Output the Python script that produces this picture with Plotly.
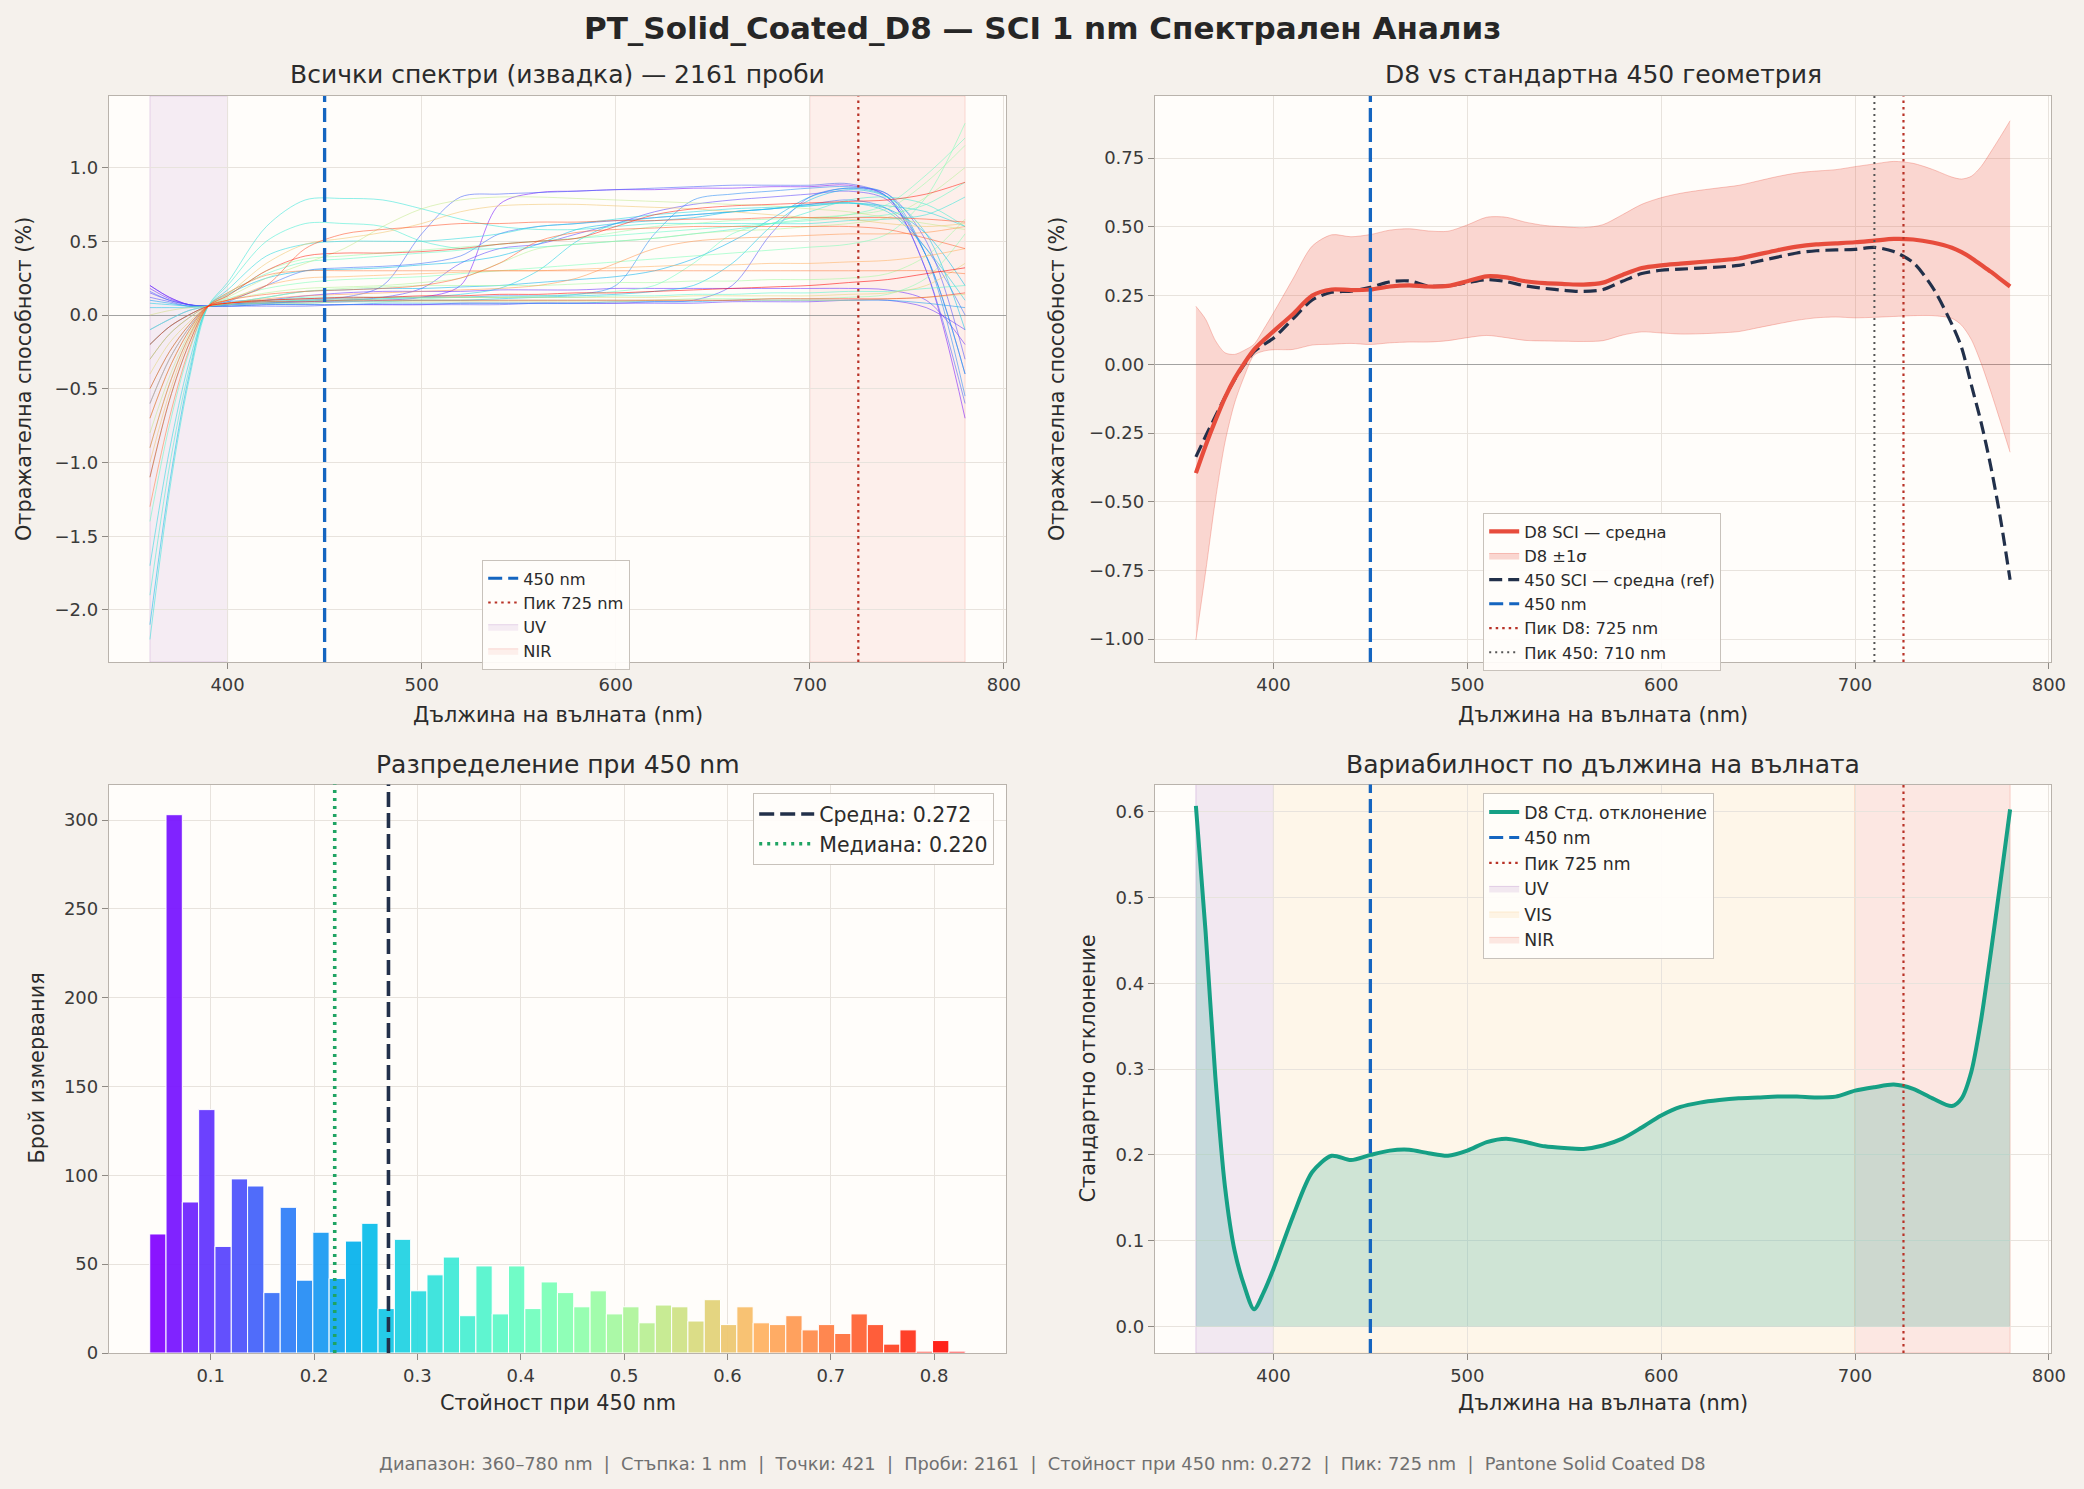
import math
import numpy as np
import plotly.graph_objects as go

# ---------------- data ----------------
WL = [360, 365, 370, 375, 380, 385, 390, 395, 400,
      410, 420, 430, 440, 450, 460, 470, 480, 490, 500,
      510, 520, 530, 540, 550, 560, 570, 580, 590, 600,
      610, 620, 630, 640, 650, 660, 670, 680, 690, 700,
      710, 720, 730, 740, 750,
      755, 760, 765, 770, 775, 780]

D8_MEAN = [-0.396, -0.296, -0.205, -0.121, -0.052, 0.004, 0.053, 0.088, 0.120,
           0.182, 0.250, 0.272, 0.270, 0.272, 0.283, 0.287, 0.283, 0.285, 0.302,
           0.320, 0.316, 0.302, 0.295, 0.292, 0.290, 0.297, 0.325, 0.350, 0.360,
           0.366, 0.372, 0.378, 0.385, 0.400, 0.415, 0.428, 0.436, 0.440, 0.444,
           0.450, 0.456, 0.454, 0.443, 0.424,
           0.408, 0.387, 0.362, 0.337, 0.310, 0.283]

REF450_MEAN = [-0.337, -0.262, -0.190, -0.120, -0.055, 0.000, 0.046, 0.072, 0.095,
               0.165, 0.234, 0.262, 0.266, 0.280, 0.300, 0.303, 0.285, 0.286, 0.297,
               0.308, 0.301, 0.285, 0.276, 0.269, 0.265, 0.272, 0.302, 0.330, 0.342,
               0.346, 0.350, 0.354, 0.360, 0.375, 0.390, 0.405, 0.413, 0.416, 0.418,
               0.425, 0.410, 0.370, 0.280, 0.145,
               0.060, -0.075, -0.210, -0.370, -0.560, -0.784]

D8_STD = [0.607, 0.460, 0.292, 0.163, 0.088, 0.047, 0.020, 0.040, 0.067,
          0.128, 0.180, 0.199, 0.194, 0.200, 0.205, 0.206, 0.202, 0.199, 0.205,
          0.215, 0.219, 0.215, 0.210, 0.208, 0.207, 0.211, 0.219, 0.232, 0.246,
          0.256, 0.261, 0.264, 0.266, 0.267, 0.268, 0.268, 0.267, 0.268, 0.275,
          0.279, 0.282, 0.277, 0.266, 0.257,
          0.266, 0.297, 0.357, 0.435, 0.518, 0.603]

SPEC_WL = [360, 370, 380, 390, 400, 420, 440, 460, 480, 500, 520, 540,
           560, 580, 600, 620, 640, 660, 680, 700, 720, 740, 760, 780]

# colour position in the rainbow map for each sampled spectrum
SPEC_CPOS = [0.02, 0.05, 0.06, 0.08, 0.10, 0.12, 0.14, 0.18, 0.21, 0.24, 0.26, 0.28,
             0.30, 0.32, 0.35, 0.38, 0.41, 0.44, 0.46, 0.49, 0.52, 0.55, 0.57, 0.60,
             0.63, 0.66, 0.69, 0.72, 0.76, 0.80, 0.84, 0.88, 0.90, 0.93, 0.96, 1.00]

SPECTRA = [
    [0.20, 0.12, 0.07, 0.06, 0.07, 0.08, 0.09, 0.09, 0.10, 0.12, 0.20, 0.75, 0.83, 0.84, 0.85, 0.85, 0.86, 0.86, 0.87, 0.87, 0.88, 0.80, 0.30, -0.70],
    [0.18, 0.11, 0.07, 0.06, 0.07, 0.10, 0.13, 0.15, 0.16, 0.16, 0.16, 0.17, 0.17, 0.17, 0.18, 0.18, 0.18, 0.18, 0.18, 0.18, 0.18, 0.17, 0.10, -0.20],
    [0.20, 0.12, 0.07, 0.06, 0.06, 0.07, 0.07, 0.07, 0.07, 0.07, 0.08, 0.08, 0.08, 0.08, 0.08, 0.08, 0.08, 0.09, 0.09, 0.09, 0.10, 0.10, 0.05, -0.10],
    [0.15, 0.10, 0.07, 0.06, 0.07, 0.09, 0.10, 0.10, 0.12, 0.18, 0.35, 0.45, 0.48, 0.55, 0.62, 0.70, 0.75, 0.78, 0.80, 0.82, 0.84, 0.78, 0.40, -0.40],
    [0.12, 0.09, 0.06, 0.06, 0.06, 0.06, 0.06, 0.07, 0.07, 0.07, 0.07, 0.07, 0.08, 0.08, 0.08, 0.09, 0.10, 0.20, 0.55, 0.80, 0.86, 0.82, 0.50, -0.30],
    [0.16, 0.10, 0.07, 0.06, 0.07, 0.08, 0.10, 0.12, 0.20, 0.55, 0.80, 0.82, 0.83, 0.84, 0.85, 0.86, 0.87, 0.88, 0.88, 0.88, 0.89, 0.80, 0.30, -0.60],
    [-0.10, -0.03, 0.03, 0.06, 0.09, 0.20, 0.30, 0.32, 0.33, 0.35, 0.40, 0.55, 0.60, 0.62, 0.64, 0.66, 0.68, 0.70, 0.72, 0.75, 0.78, 0.72, 0.45, 0.00],
    [-0.60, -0.30, -0.09, 0.06, 0.09, 0.10, 0.11, 0.11, 0.12, 0.12, 0.12, 0.13, 0.13, 0.14, 0.20, 0.55, 0.78, 0.82, 0.84, 0.86, 0.87, 0.82, 0.40, -0.55],
    [0.10, 0.08, 0.06, 0.06, 0.06, 0.07, 0.07, 0.07, 0.08, 0.08, 0.08, 0.08, 0.08, 0.08, 0.09, 0.09, 0.09, 0.10, 0.10, 0.10, 0.10, 0.10, 0.08, 0.05],
    [-0.20, -0.08, 0.00, 0.06, 0.08, 0.12, 0.16, 0.17, 0.18, 0.18, 0.19, 0.20, 0.22, 0.24, 0.26, 0.30, 0.38, 0.50, 0.65, 0.80, 0.86, 0.80, 0.40, -0.40],
    [-2.10, -1.15, -0.42, 0.06, 0.14, 0.25, 0.30, 0.31, 0.32, 0.34, 0.36, 0.40, 0.48, 0.58, 0.62, 0.64, 0.66, 0.70, 0.72, 0.75, 0.76, 0.72, 0.55, 0.20],
    [0.05, 0.05, 0.05, 0.06, 0.07, 0.08, 0.08, 0.09, 0.09, 0.10, 0.10, 0.11, 0.12, 0.13, 0.14, 0.16, 0.20, 0.35, 0.60, 0.78, 0.85, 0.80, 0.55, -0.10],
    [0.08, 0.07, 0.06, 0.06, 0.07, 0.08, 0.09, 0.10, 0.11, 0.12, 0.14, 0.18, 0.30, 0.50, 0.62, 0.66, 0.68, 0.70, 0.72, 0.74, 0.76, 0.70, 0.45, 0.10],
    [-1.70, -0.92, -0.33, 0.06, 0.17, 0.40, 0.48, 0.50, 0.50, 0.50, 0.52, 0.55, 0.60, 0.62, 0.65, 0.68, 0.70, 0.72, 0.73, 0.74, 0.76, 0.74, 0.70, 0.60],
    [-2.20, -1.20, -0.45, 0.06, 0.22, 0.60, 0.78, 0.79, 0.78, 0.72, 0.65, 0.60, 0.58, 0.58, 0.60, 0.62, 0.62, 0.62, 0.62, 0.62, 0.64, 0.65, 0.68, 0.80],
    [-1.90, -1.03, -0.38, 0.06, 0.20, 0.50, 0.62, 0.62, 0.60, 0.50, 0.45, 0.45, 0.46, 0.48, 0.50, 0.52, 0.55, 0.58, 0.62, 0.70, 0.78, 0.80, 0.75, 0.60],
    [-0.30, -0.13, -0.02, 0.06, 0.08, 0.10, 0.12, 0.12, 0.12, 0.12, 0.12, 0.12, 0.12, 0.12, 0.13, 0.13, 0.14, 0.14, 0.15, 0.15, 0.16, 0.16, 0.18, 0.20],
    [-1.40, -0.75, -0.26, 0.06, 0.15, 0.28, 0.36, 0.38, 0.40, 0.42, 0.44, 0.48, 0.50, 0.52, 0.54, 0.56, 0.58, 0.60, 0.62, 0.64, 0.66, 0.68, 0.75, 0.90],
    [-0.10, -0.03, 0.03, 0.06, 0.08, 0.09, 0.10, 0.10, 0.11, 0.11, 0.12, 0.12, 0.13, 0.14, 0.16, 0.20, 0.35, 0.55, 0.62, 0.65, 0.68, 0.75, 0.95, 1.20],
    [-1.10, -0.58, -0.20, 0.06, 0.11, 0.18, 0.22, 0.24, 0.25, 0.26, 0.28, 0.30, 0.32, 0.34, 0.36, 0.38, 0.40, 0.42, 0.44, 0.46, 0.48, 0.55, 0.80, 1.30],
    [-0.50, -0.25, -0.07, 0.06, 0.08, 0.09, 0.10, 0.10, 0.10, 0.10, 0.10, 0.10, 0.10, 0.10, 0.10, 0.10, 0.11, 0.11, 0.11, 0.11, 0.12, 0.14, 0.25, 0.55],
    [-0.90, -0.47, -0.15, 0.06, 0.13, 0.30, 0.38, 0.40, 0.42, 0.44, 0.46, 0.48, 0.50, 0.52, 0.56, 0.60, 0.62, 0.64, 0.65, 0.66, 0.68, 0.72, 0.90, 1.15],
    [-0.20, -0.08, 0.00, 0.06, 0.08, 0.12, 0.16, 0.18, 0.19, 0.20, 0.20, 0.20, 0.20, 0.21, 0.22, 0.22, 0.23, 0.23, 0.24, 0.24, 0.25, 0.28, 0.40, 0.65],
    [-0.70, -0.36, -0.11, 0.06, 0.10, 0.15, 0.18, 0.19, 0.20, 0.22, 0.25, 0.35, 0.45, 0.48, 0.50, 0.52, 0.55, 0.57, 0.58, 0.60, 0.62, 0.66, 0.80, 1.00],
    [-0.80, -0.42, -0.13, 0.06, 0.12, 0.25, 0.35, 0.45, 0.60, 0.72, 0.78, 0.80, 0.80, 0.79, 0.78, 0.77, 0.76, 0.75, 0.74, 0.72, 0.70, 0.66, 0.62, 0.58],
    [0.00, 0.03, 0.05, 0.06, 0.07, 0.08, 0.08, 0.09, 0.09, 0.09, 0.09, 0.09, 0.09, 0.09, 0.09, 0.10, 0.10, 0.10, 0.10, 0.10, 0.10, 0.11, 0.12, 0.14],
    [-0.40, -0.19, -0.05, 0.06, 0.08, 0.10, 0.11, 0.11, 0.12, 0.12, 0.12, 0.12, 0.12, 0.12, 0.12, 0.12, 0.13, 0.13, 0.13, 0.13, 0.14, 0.15, 0.20, 0.35],
    [-1.00, -0.53, -0.17, 0.06, 0.14, 0.35, 0.48, 0.52, 0.56, 0.62, 0.70, 0.74, 0.75, 0.75, 0.74, 0.73, 0.72, 0.70, 0.68, 0.66, 0.65, 0.62, 0.60, 0.62],
    [-0.60, -0.30, -0.09, 0.06, 0.10, 0.20, 0.25, 0.26, 0.27, 0.28, 0.29, 0.30, 0.30, 0.31, 0.32, 0.33, 0.34, 0.34, 0.35, 0.35, 0.36, 0.37, 0.40, 0.45],
    [-0.30, -0.13, -0.02, 0.06, 0.08, 0.11, 0.13, 0.14, 0.15, 0.16, 0.17, 0.18, 0.20, 0.25, 0.35, 0.45, 0.50, 0.52, 0.53, 0.54, 0.55, 0.55, 0.56, 0.60],
    [-1.30, -0.70, -0.24, 0.06, 0.15, 0.27, 0.30, 0.30, 0.30, 0.30, 0.30, 0.30, 0.30, 0.30, 0.30, 0.30, 0.30, 0.30, 0.30, 0.30, 0.30, 0.30, 0.30, 0.28],
    [-0.90, -0.47, -0.15, 0.06, 0.10, 0.14, 0.16, 0.17, 0.18, 0.20, 0.25, 0.35, 0.50, 0.56, 0.58, 0.59, 0.60, 0.60, 0.60, 0.60, 0.60, 0.58, 0.52, 0.45],
    [-0.70, -0.36, -0.11, 0.06, 0.10, 0.20, 0.45, 0.55, 0.58, 0.60, 0.62, 0.62, 0.63, 0.63, 0.64, 0.64, 0.65, 0.65, 0.66, 0.66, 0.66, 0.66, 0.65, 0.63],
    [-0.50, -0.25, -0.07, 0.06, 0.08, 0.09, 0.09, 0.10, 0.10, 0.10, 0.10, 0.10, 0.10, 0.10, 0.10, 0.10, 0.10, 0.10, 0.11, 0.11, 0.11, 0.11, 0.12, 0.15],
    [-1.10, -0.58, -0.20, 0.06, 0.13, 0.30, 0.40, 0.42, 0.42, 0.43, 0.45, 0.48, 0.50, 0.52, 0.60, 0.68, 0.72, 0.74, 0.75, 0.76, 0.77, 0.78, 0.82, 0.90],
    [-0.20, -0.08, 0.00, 0.06, 0.08, 0.10, 0.11, 0.12, 0.12, 0.13, 0.13, 0.14, 0.14, 0.15, 0.15, 0.16, 0.17, 0.18, 0.19, 0.20, 0.22, 0.24, 0.28, 0.32],
]

HIST_COUNTS = [67, 303, 85, 137, 60, 98, 94, 34, 82, 41,
               68, 42, 63, 73, 25, 64, 35, 44, 54, 21,
               49, 22, 49, 25, 40, 34, 26, 35, 22, 26,
               17, 27, 26, 18, 30, 16, 26, 17, 16, 21,
               13, 16, 11, 22, 16, 5, 13, 1, 7, 1]
HIST_MIN, HIST_MAX = 0.041, 0.830

MEAN_450 = 0.272
MEDIAN_450 = 0.220
MARK_WL = 450
PEAK_D8 = 725
PEAK_450 = 710
N_SAMPLES = 2161
UV_BAND = (360, 400)
VIS_BAND = (400, 700)
NIR_BAND = (700, 780)

# ---------------- style ----------------
FONT = "DejaVu Sans"
BG = "#f5f1ec"
PLOT_BG = "#fffdfa"
GRID = "#e8e3dd"
SPINE = "#b9b3ac"
TXT = "#2b2b2b"
BLUE = "#1565c0"
RED_PK = "#b83227"
GRAY_PK = "#555555"
NAVY = "#22304a"
RED = "#e74c3c"
TEAL = "#16a085"
GREEN_MED = "#1fa463"

W, H = 2084, 1489


def px_x(v):
    return v / W


def px_y(v):
    return 1 - v / H


def rainbow(t, a=1.0):
    r = min(1.0, abs(2 * t - 0.5))
    g = math.sin(math.pi * t)
    b = math.cos(math.pi * t / 2)
    return "rgba(%d,%d,%d,%.3f)" % (round(r * 255), round(g * 255), round(max(b, 0) * 255), a)


DX_L = [px_x(109), px_x(1006)]
DX_R = [px_x(1155), px_x(2051)]
DY_T = [px_y(662), px_y(96)]
DY_B = [px_y(1353), px_y(784.5)]

fig = go.Figure()

# ---------- top-left: sampled spectra ----------
for vals, cp in zip(SPECTRA, SPEC_CPOS):
    fig.add_trace(go.Scatter(x=SPEC_WL, y=vals, mode="lines",
                             line=dict(color=rainbow(cp, 0.55), width=1.0, shape="spline", smoothing=0.9),
                             xaxis="x", yaxis="y", showlegend=False, hoverinfo="skip"))


def leg_line(name, color, width, dash, legend, xa, ya, rank=None):
    d = dict(x=[None], y=[None], mode="lines", name=name,
             line=dict(color=color, width=width, dash=dash),
             xaxis=xa, yaxis=ya, legend=legend, showlegend=True)
    if rank is not None:
        d["legendrank"] = rank
    fig.add_trace(go.Scatter(**d))


def leg_patch(name, fill, edge, legend, xa, ya, rank=None):
    d = dict(x=[None], y=[None], mode="lines", name=name, fill="toself",
             fillcolor=fill, line=dict(color=edge, width=1),
             xaxis=xa, yaxis=ya, legend=legend, showlegend=True)
    if rank is not None:
        d["legendrank"] = rank
    fig.add_trace(go.Scatter(**d))


UV_FILL = "rgba(155,89,182,0.10)"
UV_EDGE = "rgba(155,89,182,0.22)"
NIR_FILL = "rgba(231,76,60,0.08)"
NIR_EDGE = "rgba(231,76,60,0.18)"

leg_line("450 nm", BLUE, 3, "14px,6px", "legend", "x", "y")
leg_line("Пик 725 nm", RED_PK, 2.2, "2.5px,4px", "legend", "x", "y")
leg_patch("UV", UV_FILL, UV_EDGE, "legend", "x", "y")
leg_patch("NIR", NIR_FILL, NIR_EDGE, "legend", "x", "y")

# ---------- top-right: D8 vs 450 ----------
wl = np.array(WL, dtype=float)
m = np.array(D8_MEAN)
s = np.array(D8_STD)
fig.add_trace(go.Scatter(x=wl, y=m + s, mode="lines",
                         line=dict(color="rgba(231,76,60,0.30)", width=1, shape="spline", smoothing=0.8),
                         xaxis="x2", yaxis="y2", showlegend=False, hoverinfo="skip"))
fig.add_trace(go.Scatter(x=wl, y=m - s, mode="lines", fill="tonexty",
                         fillcolor="rgba(231,76,60,0.22)",
                         line=dict(color="rgba(231,76,60,0.30)", width=1, shape="spline", smoothing=0.8),
                         name="D8 ±1σ", legend="legend2", legendrank=2,
                         xaxis="x2", yaxis="y2", hoverinfo="skip"))
fig.add_trace(go.Scatter(x=WL, y=REF450_MEAN, mode="lines",
                         line=dict(color=NAVY, width=3.2, dash="13px,6px", shape="spline", smoothing=0.8),
                         name="450 SCI — средна (ref)", legend="legend2", legendrank=3,
                         xaxis="x2", yaxis="y2"))
fig.add_trace(go.Scatter(x=WL, y=D8_MEAN, mode="lines",
                         line=dict(color=RED, width=4.2, shape="spline", smoothing=0.8),
                         name="D8 SCI — средна", legend="legend2", legendrank=1,
                         xaxis="x2", yaxis="y2"))
leg_line("450 nm", BLUE, 3, "14px,6px", "legend2", "x2", "y2", 4)
leg_line("Пик D8: 725 nm", RED_PK, 2.2, "2.5px,4px", "legend2", "x2", "y2", 5)
leg_line("Пик 450: 710 nm", GRAY_PK, 2.0, "2px,4px", "legend2", "x2", "y2", 6)

# ---------- bottom-left: histogram ----------
nb = len(HIST_COUNTS)
edges = np.linspace(HIST_MIN, HIST_MAX, nb + 1)
centers = (edges[:-1] + edges[1:]) / 2
bw = edges[1] - edges[0]
bar_colors = [rainbow(i / (nb - 1), 0.92) for i in range(nb)]
fig.add_trace(go.Bar(x=centers, y=HIST_COUNTS, width=bw,
                     marker=dict(color=bar_colors, line=dict(color="white", width=1)),
                     xaxis="x3", yaxis="y3", showlegend=False, hoverinfo="skip"))
leg_line("Средна: %.3f" % MEAN_450, NAVY, 3.5, "15px,6px", "legend3", "x3", "y3")
leg_line("Медиана: %.3f" % MEDIAN_450, GREEN_MED, 3.5, "3px,5px", "legend3", "x3", "y3")

# ---------- bottom-right: std ----------
fig.add_trace(go.Scatter(x=WL, y=D8_STD, mode="lines", fill="tozeroy",
                         fillcolor="rgba(22,160,133,0.20)",
                         line=dict(color="rgba(22,160,133,0.0)", width=0, shape="spline", smoothing=0.8),
                         xaxis="x4", yaxis="y4", showlegend=False, hoverinfo="skip"))
fig.add_trace(go.Scatter(x=WL, y=D8_STD, mode="lines",
                         line=dict(color=TEAL, width=4, shape="spline", smoothing=0.8),
                         name="D8 Стд. отклонение", legend="legend4",
                         xaxis="x4", yaxis="y4"))
leg_line("450 nm", BLUE, 3, "14px,6px", "legend4", "x4", "y4")
leg_line("Пик 725 nm", RED_PK, 2.2, "2.5px,4px", "legend4", "x4", "y4")
leg_patch("UV", "rgba(155,89,182,0.13)", "rgba(155,89,182,0.25)", "legend4", "x4", "y4")
leg_patch("VIS", "rgba(243,156,18,0.09)", "rgba(243,156,18,0.14)", "legend4", "x4", "y4")
leg_patch("NIR", "rgba(231,76,60,0.12)", "rgba(231,76,60,0.22)", "legend4", "x4", "y4")

# ---------- shapes ----------
shapes = []


def span(xa, ya, band, fill, edge):
    shapes.append(dict(type="rect", xref=xa, yref=ya + " domain", x0=band[0], x1=band[1], y0=0, y1=1,
                       fillcolor=fill, line=dict(color=edge, width=1), layer="below"))


def vline(xa, ya, x, color, width, dash):
    shapes.append(dict(type="line", xref=xa, yref=ya + " domain", x0=x, x1=x, y0=0, y1=1,
                       line=dict(color=color, width=width, dash=dash), layer="above"))


span("x", "y", UV_BAND, UV_FILL, UV_EDGE)
span("x", "y", NIR_BAND, NIR_FILL, NIR_EDGE)
vline("x", "y", MARK_WL, BLUE, 3.3, "14px,6px")
vline("x", "y", PEAK_D8, RED_PK, 2.2, "2.5px,4px")

vline("x2", "y2", MARK_WL, BLUE, 3.3, "14px,6px")
vline("x2", "y2", PEAK_450, GRAY_PK, 2.0, "2px,4px")
vline("x2", "y2", PEAK_D8, RED_PK, 2.2, "2.5px,4px")

vline("x3", "y3", MEAN_450, NAVY, 3.6, "15px,6px")
vline("x3", "y3", MEDIAN_450, GREEN_MED, 3.6, "3px,5px")

span("x4", "y4", UV_BAND, "rgba(155,89,182,0.13)", "rgba(155,89,182,0.25)")
span("x4", "y4", VIS_BAND, "rgba(243,156,18,0.07)", "rgba(243,156,18,0.12)")
span("x4", "y4", NIR_BAND, "rgba(231,76,60,0.12)", "rgba(231,76,60,0.22)")
vline("x4", "y4", MARK_WL, BLUE, 3.3, "14px,6px")
vline("x4", "y4", PEAK_D8, RED_PK, 2.2, "2.5px,4px")


# ---------- axes ----------
def axis(domain, anchor, rng, tickvals, fmt, zero=False):
    return dict(domain=domain, anchor=anchor, range=rng, tickvals=tickvals, tickformat=fmt,
                automargin=False,
                showgrid=True, gridcolor=GRID, gridwidth=1,
                zeroline=zero, zerolinecolor="rgba(140,140,140,0.8)", zerolinewidth=1.3,
                showline=True, linecolor=SPINE, linewidth=1.3, mirror=True,
                ticks="outside", ticklen=6, tickwidth=1.2, tickcolor="#8f8a84",
                tickfont=dict(family=FONT, size=18, color="#3a3a3a"))


WL_TICKS = [400, 500, 600, 700, 800]

annotations = []


def ann(text, x, y, size, color=TXT, angle=0, bold=False):
    if bold:
        text = "<b>" + text + "</b>"
    annotations.append(dict(text=text, x=x, y=y, xref="paper", yref="paper", showarrow=False,
                            xanchor="center", yanchor="middle", textangle=angle,
                            font=dict(family=FONT, size=size, color=color)))


ann("PT_Solid_Coated_D8 — SCI 1 nm Спектрален Анализ", 0.5, px_y(28), 31, "#262626", bold=True)
ann("Всички спектри (извадка) — %d проби" % N_SAMPLES, px_x(557.5), px_y(74.5), 25)
ann("D8 vs стандартна 450 геометрия", px_x(1603), px_y(74.5), 25)
ann("Разпределение при 450 nm", px_x(557.5), px_y(764), 25)
ann("Вариабилност по дължина на вълната", px_x(1603), px_y(764), 25)
ann("Дължина на вълната (nm)", px_x(557.5), px_y(715), 20.8)
ann("Дължина на вълната (nm)", px_x(1603), px_y(715), 20.8)
ann("Стойност при 450 nm", px_x(557.5), px_y(1403), 20.8)
ann("Дължина на вълната (nm)", px_x(1603), px_y(1403), 20.8)
ann("Отражателна способност (%)", px_x(24), px_y(379), 20.8, angle=-90)
ann("Отражателна способност (%)", px_x(1057), px_y(379), 20.8, angle=-90)
ann("Брой измервания", px_x(36), px_y(1068.5), 20.8, angle=-90)
ann("Стандартно отклонение", px_x(1087), px_y(1068.5), 20.8, angle=-90)
sep = "\u00a0\u00a0|\u00a0\u00a0"
footer = sep.join(["Диапазон: 360–780 nm", "Стъпка: 1 nm", "Точки: 421", "Проби: %d" % N_SAMPLES,
                   "Стойност при 450 nm: %.3f" % MEAN_450, "Пик: %d nm" % PEAK_D8,
                   "Pantone Solid Coated D8"])
ann(footer, 0.5, px_y(1463), 17.8, "#707070")


def legend_box(x, y, size, xanchor="left", itemwidth=30):
    return dict(x=x, y=y, xref="paper", yref="paper", xanchor=xanchor, yanchor="top",
                bgcolor="rgba(255,253,250,0.92)", bordercolor="#c8c2bb", borderwidth=1.2,
                font=dict(family=FONT, size=size, color="#2b2b2b"), tracegroupgap=0,
                itemwidth=itemwidth, traceorder="normal")


fig.update_layout(
    template=go.layout.Template(),
    width=W, height=H, autosize=False,
    margin=dict(l=0, r=0, t=0, b=0, pad=0, autoexpand=False),
    paper_bgcolor=BG, plot_bgcolor=PLOT_BG,
    font=dict(family=FONT, color=TXT),
    showlegend=True,
    xaxis=axis(DX_L, "y", [338.9, 801.1], WL_TICKS, "d"),
    yaxis=axis(DY_T, "x", [-2.353, 1.485], [-2.0, -1.5, -1.0, -0.5, 0.0, 0.5, 1.0], ".1f", zero=True),
    xaxis2=axis(DX_R, "y2", [338.9, 801.1], WL_TICKS, "d"),
    yaxis2=axis(DY_T, "x2", [-1.083, 0.976], [-1.0, -0.75, -0.5, -0.25, 0.0, 0.25, 0.5, 0.75], ".2f", zero=True),
    xaxis3=axis(DX_L, "y3", [0.0016, 0.8695], [0.1, 0.2, 0.3, 0.4, 0.5, 0.6, 0.7, 0.8], ".1f"),
    yaxis3=axis(DY_B, "x3", [0, 320], [0, 50, 100, 150, 200, 250, 300], "d"),
    xaxis4=axis(DX_R, "y4", [338.9, 801.1], WL_TICKS, "d"),
    yaxis4=axis(DY_B, "x4", [-0.031, 0.632], [0.0, 0.1, 0.2, 0.3, 0.4, 0.5, 0.6], ".1f"),
    legend=legend_box(px_x(482), px_y(560), 16.3),
    legend2=legend_box(px_x(1483), px_y(513), 16.3),
    legend3=legend_box(px_x(994), px_y(793), 20.5, xanchor="right", itemwidth=55),
    legend4=legend_box(px_x(1483), px_y(793), 17.3),
    shapes=shapes,
    annotations=annotations,
)

fig.write_html("out.html", config={"displayModeBar": False},
               post_script="document.documentElement.style.margin='0';"
                           "document.body.style.margin='0';"
                           "document.body.style.overflow='hidden';")
